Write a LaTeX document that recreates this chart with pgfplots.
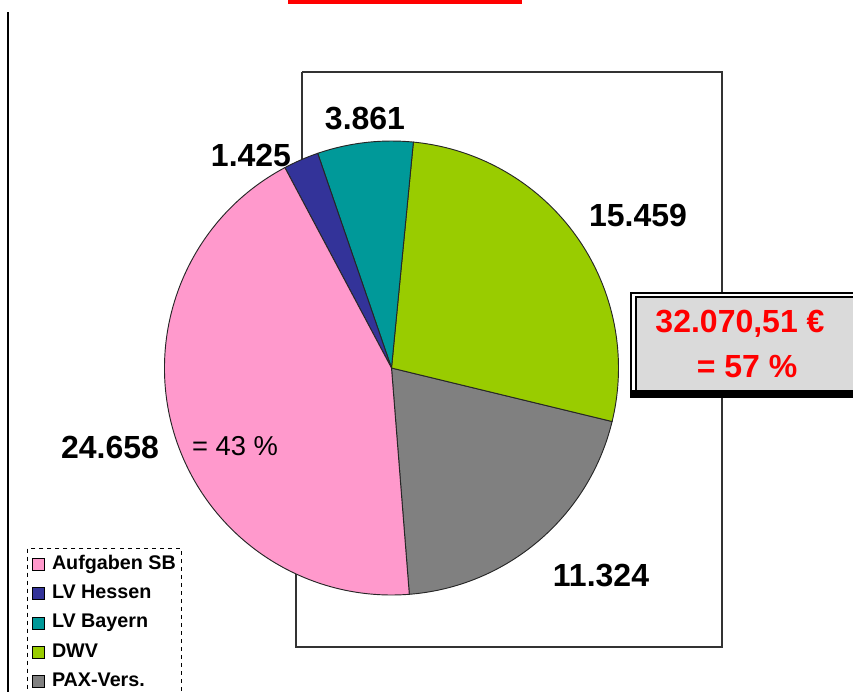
\documentclass[border=0pt]{standalone}
\usepackage{pgfplots}
\pgfplotsset{compat=1.18}
\usepackage{fontspec}
\setmainfont{Liberation Sans}
\definecolor{cA}{HTML}{FF99CC}
\definecolor{cB}{HTML}{333399}
\definecolor{cC}{HTML}{009999}
\definecolor{cD}{HTML}{99CC00}
\definecolor{cE}{HTML}{808080}
\definecolor{boxgray}{HTML}{DADADA}
\newcommand\lbl{\fontsize{24}{28}\selectfont\bfseries}
\begin{document}
\begin{tikzpicture}
\path[use as bounding box] (0,0) rectangle (639.75pt,-519pt);
\clip (0,0) rectangle (639.75pt,-519pt);
% data (values of the slices)
\def\vA{24.658}% Aufgaben SB
\def\vB{1.425}% LV Hessen
\def\vC{3.861}% LV Bayern
\def\vD{15.459}% DWV
\def\vE{11.324}% PAX-Vers.
\pgfmathsetmacro\tot{\vA+\vB+\vC+\vD+\vE}
\pgfmathsetmacro\sE{-85.5}
\pgfmathsetmacro\eE{\sE+360*\vE/\tot}
\pgfmathsetmacro\eD{\eE+360*\vD/\tot}
\pgfmathsetmacro\eC{\eD+360*\vC/\tot}
\pgfmathsetmacro\eB{\eC+360*\vB/\tot}
\pgfmathsetmacro\eA{\eB+360*\vA/\tot}
\def\R{170.25pt}
\begin{axis}[at={(0,0)}, anchor=origin, x=0.75pt, y=0.75pt, y dir=reverse,
  xmin=0, xmax=853, ymin=0, ymax=692, hide axis, clip=false,
  legend cell align=left,
  legend style={at={(axis cs:27,548)}, anchor=north west, draw=black, dashed,
    line width=0.9pt, fill=white, font=\fontsize{14.8}{17}\selectfont\bfseries,
    row sep=6.5pt, inner xsep=3pt, inner ysep=4pt,
    nodes={inner sep=1pt, text height=10.5pt, text depth=3pt, solid}}]
% title underline and left rule
\fill[red] (axis cs:288,0) rectangle (axis cs:522,3.5);
\fill[red] (axis cs:493,0) rectangle (axis cs:510,3.5);
\draw[line width=1.1pt] (axis cs:8,12) -- (axis cs:8,692);
% frame
\draw[line width=1.1pt, black!80] (axis cs:302,72) -- (axis cs:722,72) -- (axis cs:722,647) -- (axis cs:296,647) -- (axis cs:296,560);
\draw[line width=1.1pt, black!80] (axis cs:302,72) -- (axis cs:302,200);
% pie
\filldraw[fill=cE, draw=black!85, line width=0.7pt] (axis cs:391.5,368) -- ++(\sE:\R) arc[start angle=\sE, end angle=\eE, radius=\R] -- cycle;
\filldraw[fill=cD, draw=black!85, line width=0.7pt] (axis cs:391.5,368) -- ++(\eE:\R) arc[start angle=\eE, end angle=\eD, radius=\R] -- cycle;
\filldraw[fill=cC, draw=black!85, line width=0.7pt] (axis cs:391.5,368) -- ++(\eD:\R) arc[start angle=\eD, end angle=\eC, radius=\R] -- cycle;
\filldraw[fill=cB, draw=black!85, line width=0.7pt] (axis cs:391.5,368) -- ++(\eC:\R) arc[start angle=\eC, end angle=\eB, radius=\R] -- cycle;
\filldraw[fill=cA, draw=black!85, line width=0.7pt] (axis cs:391.5,368) -- ++(\eB:\R) arc[start angle=\eB, end angle=\eA, radius=\R] -- cycle;
% labels
\node[font=\lbl] at (axis cs:365,118) {3.861};
\node[font=\lbl] at (axis cs:251,155) {1.425};
\node[font=\lbl] at (axis cs:638,215) {15.459};
\node[font=\lbl] at (axis cs:110,447) {24.658};
\node[font=\lbl] at (axis cs:601,575) {11.324};
\node[font=\fontsize{20.5}{24}\selectfont] at (axis cs:235,446) {= 43 \%};
% box
\fill[black] (axis cs:630,292) rectangle (axis cs:860,398);
\fill[white] (axis cs:632,294) rectangle (axis cs:860,390);
\fill[black] (axis cs:635,296) rectangle (axis cs:860,390);
\fill[boxgray] (axis cs:637,298) rectangle (axis cs:860,390);
\node[font=\lbl, text=red] at (axis cs:740,324) {32.070,51 €};
\node[font=\lbl, text=red] at (axis cs:747,367) {= 57 \%};
% legend
\addlegendimage{legend image code/.code={\path[draw=none,fill=none] (0pt,0pt) -- (14pt,0pt);\filldraw[fill=cA, draw=black, solid, line width=0.6pt] (0pt,-4.5pt) rectangle (9pt,4.5pt);}}
\addlegendentry{Aufgaben SB}
\addlegendimage{legend image code/.code={\path[draw=none,fill=none] (0pt,0pt) -- (14pt,0pt);\filldraw[fill=cB, draw=black, solid, line width=0.6pt] (0pt,-4.5pt) rectangle (9pt,4.5pt);}}
\addlegendentry{LV Hessen}
\addlegendimage{legend image code/.code={\path[draw=none,fill=none] (0pt,0pt) -- (14pt,0pt);\filldraw[fill=cC, draw=black, solid, line width=0.6pt] (0pt,-4.5pt) rectangle (9pt,4.5pt);}}
\addlegendentry{LV Bayern}
\addlegendimage{legend image code/.code={\path[draw=none,fill=none] (0pt,0pt) -- (14pt,0pt);\filldraw[fill=cD, draw=black, solid, line width=0.6pt] (0pt,-4.5pt) rectangle (9pt,4.5pt);}}
\addlegendentry{DWV}
\addlegendimage{legend image code/.code={\path[draw=none,fill=none] (0pt,0pt) -- (14pt,0pt);\filldraw[fill=cE, draw=black, solid, line width=0.6pt] (0pt,-4.5pt) rectangle (9pt,4.5pt);}}
\addlegendentry{PAX-Vers.}
\end{axis}
\end{tikzpicture}
\end{document}
